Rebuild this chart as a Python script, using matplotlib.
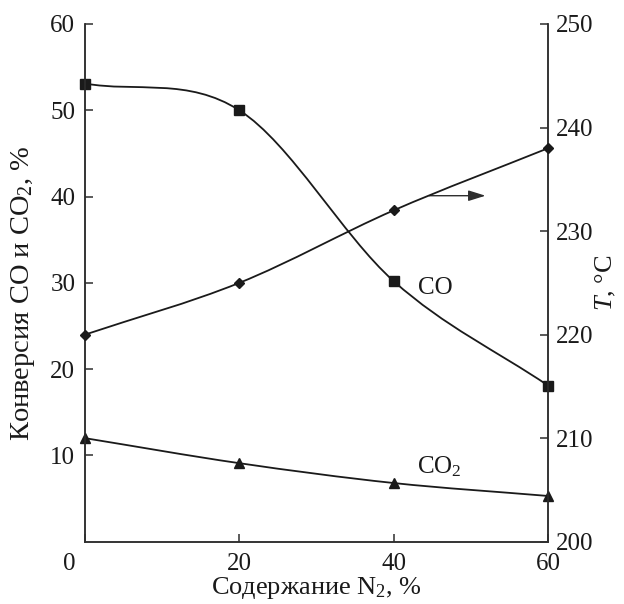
import numpy as np
import matplotlib
matplotlib.use('Agg')
from matplotlib import pyplot as plt
from matplotlib.path import Path
from matplotlib.patches import PathPatch
from matplotlib.transforms import ScaledTranslation

# data
n2 = [0, 20, 40, 60]                   # N2 content, %
co_conv = [53.1, 50.0, 30.2, 18.1]     # CO conversion, %
co2_conv = [12.0, 9.1, 6.8, 5.3]       # CO2 conversion, %
temp = [220, 225, 232, 238]            # T, °C (right axis)

plt.rcParams['font.family'] = ['Liberation Serif', 'DejaVu Serif']
plt.rcParams['mathtext.fontset'] = 'custom'
plt.rcParams['mathtext.rm'] = 'Liberation Serif'
plt.rcParams['mathtext.it'] = 'Liberation Serif:italic'

INK = '#1a1a1a'
AXC = '#2e2e2e'
FS = 18


def smooth_path(x, y):
    # Catmull-Rom through the data points, drawn as cubic Bezier segments
    x = np.asarray(x, float)
    y = np.asarray(y, float)
    px = np.r_[2 * x[0] - x[1], x, 2 * x[-1] - x[-2]]
    py = np.r_[2 * y[0] - y[1], y, 2 * y[-1] - y[-2]]
    verts = [(x[0], y[0])]
    codes = [Path.MOVETO]
    for i in range(1, len(px) - 2):
        c1 = (px[i] + (px[i + 1] - px[i - 1]) / 6, py[i] + (py[i + 1] - py[i - 1]) / 6)
        c2 = (px[i + 1] - (px[i + 2] - px[i]) / 6, py[i + 1] - (py[i + 2] - py[i]) / 6)
        verts += [c1, c2, (px[i + 1], py[i + 1])]
        codes += [Path.CURVE4] * 3
    return Path(verts, codes)


fig = plt.figure(figsize=(6.24, 6.04), dpi=100)
ax = fig.add_axes([85 / 624, 1 - 541.7 / 604, 463 / 624, 517.7 / 604])
ax2 = ax.twinx()

ax.set_xlim(0, 60)
ax.set_ylim(0, 60)
ax2.set_ylim(200, 250)

# curves
ax.add_patch(PathPatch(smooth_path(n2, co_conv), fill=False, lw=1.3, color=INK))
ax.add_patch(PathPatch(smooth_path(n2, co2_conv), fill=False, lw=1.3, color=INK))
ax2.add_patch(PathPatch(smooth_path(n2, temp), fill=False, lw=1.3, color=INK))

ax.plot(n2, co_conv, 's', color=INK, ms=7.3, clip_on=False, zorder=5)
ax.plot(n2, co2_conv, '^', color=INK, ms=7.3, clip_on=False, zorder=5)
ax2.plot(n2, temp, 'D', color=INK, ms=5.5, clip_on=False, zorder=5)

# annotations
ax.text(43.2, 28.7, 'CO', fontsize=FS, color=INK)
ax.text(43.0, 7.9, 'CO$_2$', fontsize=FS, color=INK)
ax.annotate('', xy=(51.9, 40.1), xytext=(44.6, 40.1),
            arrowprops=dict(arrowstyle='-|>,head_length=0.8,head_width=0.25',
                            mutation_scale=13, lw=1.0, color=AXC,
                            shrinkA=0, shrinkB=0))

# axes styling
for a in (ax, ax2):
    a.spines['top'].set_visible(False)
    for s in ('left', 'right', 'bottom'):
        a.spines[s].set_color(AXC)
        a.spines[s].set_linewidth(1.1)

ax.set_xticks(n2)
ax.set_xticklabels(['0', '20', '40', '60'])
ax.set_yticks([10, 20, 30, 40, 50, 60])
ax2.set_yticks([200, 210, 220, 230, 240, 250])

ax.tick_params(direction='in', length=6, width=1.1, color=AXC, labelsize=FS, labelcolor=INK)
ax.tick_params(axis='x', pad=8)
ax.tick_params(axis='y', pad=7)
ax2.tick_params(direction='in', length=6, width=1.1, color=AXC, labelsize=FS, labelcolor=INK, pad=6)

# the corner "0" sits left of the axis origin
zero = ax.get_xticklabels()[0]
zero.set_transform(zero.get_transform() + ScaledTranslation(-16 / 100, 0, fig.dpi_scale_trans))

ax.set_xlabel('Содержание N$_2$, %', fontsize=19, color=INK, labelpad=0)
ax.set_ylabel('Конверсия CO и CO$_2$, %', fontsize=20.5, color=INK)
ax2.set_ylabel('$T$, °C', fontsize=19, color=INK, rotation=90)
ax.yaxis.set_label_coords(-0.103, 0.48)
ax2.yaxis.set_label_coords(1.10, 0.5)

plt.savefig('out.png', dpi=100)
